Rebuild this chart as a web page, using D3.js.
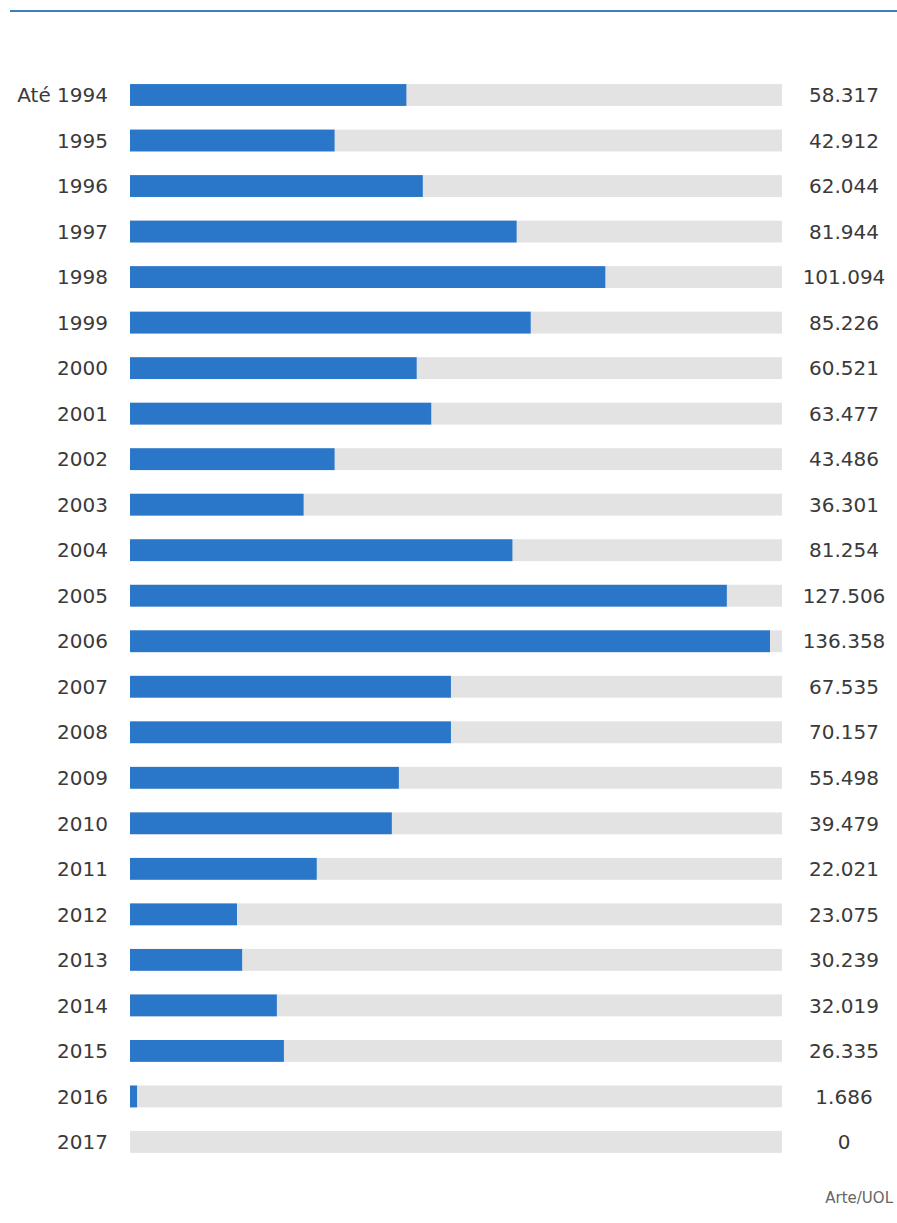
<!DOCTYPE html>
<html><head><meta charset="utf-8">
<script src="https://cdn.jsdelivr.net/npm/d3@7"></script>
<style>body{margin:0;background:#fff}</style>
</head><body>
<script>
const categories = ["Até 1994","1995","1996","1997","1998","1999","2000","2001","2002","2003","2004","2005","2006","2007","2008","2009","2010","2011","2012","2013","2014","2015","2016","2017"];
// value labels as printed
const valueLabels = ["58.317","42.912","62.044","81.944","101.094","85.226","60.521","63.477","43.486","36.301","81.254","127.506","136.358","67.535","70.157","55.498","39.479","22.021","23.075","30.239","32.019","26.335","1.686","0"];
// bar lengths as drawn in the picture (thousands)
const barValues = [58.9,43.6,62.4,82.4,101.3,85.4,61.1,64.2,43.6,37.0,81.5,127.2,136.4,68.4,68.4,57.3,55.8,39.8,22.8,23.9,31.3,32.8,1.5,0];
const scaleMax = 136.4;

const W = 897, H = 1223;
const svg = d3.select("body").append("svg").attr("width", W).attr("height", H);

svg.append("line").attr("x1", 10).attr("x2", W).attr("y1", 11).attr("y2", 11)
  .attr("stroke", "#3f7dbd").attr("stroke-width", 2);

const x0 = 130, trackEnd = 782;
const x = d3.scaleLinear().domain([0, scaleMax]).range([x0, 770]);
const step = 45.52;
const y = d3.scaleBand().domain(categories)
  .range([95 - step/2, 95 - step/2 + step*categories.length])
  .paddingInner(0.52).paddingOuter(0.26);

const font = "DejaVu Sans, sans-serif";
const g = svg.append("g");
const rows = g.selectAll("g.row").data(categories).join("g").attr("class","row");

rows.append("rect").attr("x", x0).attr("width", trackEnd - x0)
  .attr("y", d => y(d)).attr("height", y.bandwidth()).attr("fill", "#e3e3e3");
rows.append("rect").attr("x", x0)
  .attr("width", (d,i) => x(barValues[i]) - x0)
  .attr("y", d => y(d)).attr("height", y.bandwidth()).attr("fill", "#2a77c9");

rows.append("text").attr("x", 108).attr("y", d => y(d) + y.bandwidth()/2)
  .attr("dy", "0.36em").attr("text-anchor", "end")
  .style("font-family", font).style("font-size", "20px").attr("fill", "#3a3a3a")
  .text(d => d);
rows.append("text").attr("x", 844).attr("y", d => y(d) + y.bandwidth()/2)
  .attr("dy", "0.36em").attr("text-anchor", "middle")
  .style("font-family", font).style("font-size", "20px").attr("fill", "#3a3a3a")
  .text((d,i) => valueLabels[i]);

svg.append("text").attr("x", 893).attr("y", 1203).attr("text-anchor", "end")
  .style("font-family", font).style("font-size", "15px").attr("fill", "#666")
  .text("Arte/UOL");
</script>
</body></html>
